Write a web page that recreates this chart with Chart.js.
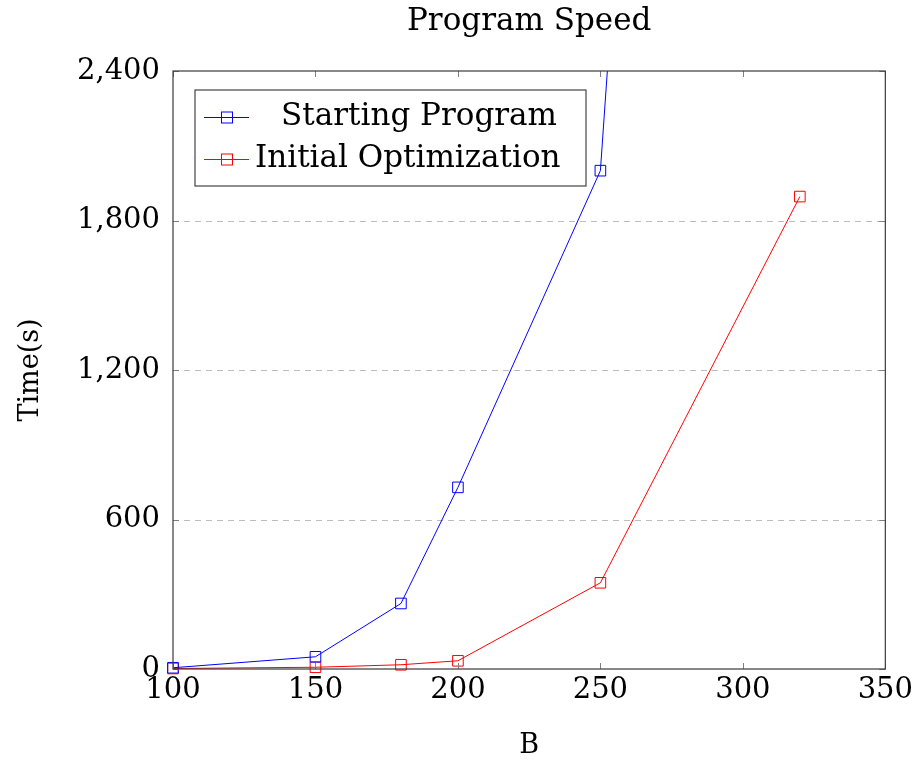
<!DOCTYPE html>
<html>
<head>
<meta charset="utf-8">
<script src="https://cdn.jsdelivr.net/npm/chart.js@4"></script>
<style>
  html, body { margin: 0; padding: 0; background: #fff; }
  #wrap { width: 917px; height: 762px; }
</style>
</head>
<body>
<div id="wrap"><canvas id="speedChart" width="917" height="762"></canvas></div>
<script>
// ── Data ───────────────────────────────────────────────────────
const CHART_TITLE = 'Program Speed';
const X_TITLE = 'B';
const Y_TITLE = 'Time(s)';

const startingB    = [100, 150, 180, 200, 250, 300];
const startingTime = [5, 49, 263, 729, 2000, 10200];

const optimB    = [100, 150, 180, 200, 250, 320];
const optimTime = [2, 7, 17, 33, 346, 1896];

const xTicks = [100, 150, 200, 250, 300, 350];
const yTicks = [0, 600, 1200, 1800, 2400];

const FONT = '"DejaVu Serif", "Liberation Serif", serif';

// ── Plugins ────────────────────────────────────────────────────
// dashed horizontal grid (inner ticks only)
const gridPlugin = {
  id: 'dashGrid',
  beforeDatasetsDraw(chart) {
    const { ctx, chartArea: a, scales: { y } } = chart;
    ctx.save();
    ctx.strokeStyle = '#bdbdbd';
    ctx.lineWidth = 1;
    ctx.setLineDash([6, 5]);
    yTicks.slice(1, -1).forEach(v => {
      const py = Math.round(y.getPixelForValue(v)) + 0.5;
      ctx.beginPath();
      ctx.moveTo(a.left, py);
      ctx.lineTo(a.right, py);
      ctx.stroke();
    });
    ctx.restore();
  },
};

// frame + inward ticks on all sides
const framePlugin = {
  id: 'frame',
  afterDatasetsDraw(chart) {
    const { ctx, chartArea: a, scales: { x, y } } = chart;
    const len = 6;
    ctx.save();
    ctx.strokeStyle = '#808080';
    ctx.lineWidth = 1;
    xTicks.forEach(v => {
      const px = Math.round(x.getPixelForValue(v)) + 0.5;
      ctx.beginPath();
      ctx.moveTo(px, a.bottom); ctx.lineTo(px, a.bottom - len);
      ctx.moveTo(px, a.top);    ctx.lineTo(px, a.top + len);
      ctx.stroke();
    });
    yTicks.forEach(v => {
      const py = Math.round(y.getPixelForValue(v)) + 0.5;
      ctx.beginPath();
      ctx.moveTo(a.left, py);  ctx.lineTo(a.left + len, py);
      ctx.moveTo(a.right, py); ctx.lineTo(a.right - len, py);
      ctx.stroke();
    });
    ctx.strokeStyle = '#3a3a3a';
    ctx.lineWidth = 1.2;
    ctx.strokeRect(a.left, a.top, a.right - a.left, a.bottom - a.top);
    ctx.restore();
  },
};

// title centered over the plot area
const titlePlugin = {
  id: 'plotTitle',
  afterDraw(chart) {
    const { ctx, chartArea: a } = chart;
    ctx.save();
    ctx.fillStyle = '#000';
    ctx.font = `31px ${FONT}`;
    ctx.textAlign = 'center';
    ctx.textBaseline = 'middle';
    ctx.fillText(CHART_TITLE, (a.left + a.right) / 2, 22);
    ctx.restore();
  },
};

// legend box inside the plot, top-left
const legendPlugin = {
  id: 'innerLegend',
  afterDraw(chart) {
    const { ctx, chartArea: a } = chart;
    const bx = a.left + 22, by = a.top + 19, bw = 391, bh = 96;
    ctx.save();
    ctx.fillStyle = '#fff';
    ctx.fillRect(bx, by, bw, bh);
    ctx.strokeStyle = '#444';
    ctx.lineWidth = 1.2;
    ctx.strokeRect(bx, by, bw, bh);
    ctx.font = `31px ${FONT}`;
    ctx.textBaseline = 'middle';
    chart.data.datasets.forEach((ds, i) => {
      const cy = by + 27 + i * 42;
      ctx.strokeStyle = ds.borderColor;
      ctx.lineWidth = 1;
      ctx.beginPath();
      ctx.moveTo(bx + 9, cy + 0.5); ctx.lineTo(bx + 54, cy + 0.5);
      ctx.stroke();
      ctx.strokeRect(bx + 26.5, cy - 5, 11, 11);
      ctx.fillStyle = '#000';
      if (i === 0) {
        ctx.textAlign = 'center';
        ctx.fillText(ds.label, bx + 224, cy);
      } else {
        ctx.textAlign = 'left';
        ctx.fillText(ds.label, bx + 60, cy);
      }
    });
    ctx.restore();
  },
};

// ── Chart ──────────────────────────────────────────────────────
const toPoints = (xs, ys) => xs.map((v, i) => ({ x: v, y: ys[i] }));
const CLIP = { left: 12, right: 12, top: 0, bottom: 12 };

new Chart(document.getElementById('speedChart').getContext('2d'), {
  type: 'line',
  data: {
    datasets: [
      {
        label: 'Starting Program',
        data: toPoints(startingB, startingTime),
        borderColor: '#0000ff',
        backgroundColor: 'rgba(0,0,0,0)',
        borderWidth: 1,
        pointStyle: 'rect',
        pointRadius: 7.5,
        pointBorderWidth: 1,
        pointBorderColor: '#0000ff',
        pointBackgroundColor: 'rgba(0,0,0,0)',
        tension: 0,
        clip: CLIP,
      },
      {
        label: 'Initial Optimization',
        data: toPoints(optimB, optimTime),
        borderColor: '#ff0000',
        backgroundColor: 'rgba(0,0,0,0)',
        borderWidth: 1,
        pointStyle: 'rect',
        pointRadius: 7.5,
        pointBorderWidth: 1,
        pointBorderColor: '#ff0000',
        pointBackgroundColor: 'rgba(0,0,0,0)',
        tension: 0,
        clip: CLIP,
      },
    ],
  },
  options: {
    responsive: false,
    animation: false,
    layout: { padding: { top: 71, right: 31, left: 0, bottom: 0 } },
    plugins: {
      legend: { display: false },
      tooltip: { enabled: false },
      title: { display: false },
    },
    scales: {
      x: {
        type: 'linear',
        min: 100, max: 350,
        afterBuildTicks: s => { s.ticks = xTicks.map(v => ({ value: v })); },
        afterFit: s => { s.height = 93; },
        ticks: { color: '#000', font: { family: FONT, size: 29 }, padding: 4 },
        grid: { display: false, drawTicks: false },
        border: { display: false },
        title: { display: true, text: X_TITLE, color: '#000', font: { family: FONT, size: 27 }, padding: { top: 0, bottom: 0 } },
      },
      y: {
        type: 'linear',
        min: 0, max: 2400,
        afterBuildTicks: s => { s.ticks = yTicks.map(v => ({ value: v })); },
        afterFit: s => { s.width = 173; },
        ticks: {
          color: '#000', font: { family: FONT, size: 29 }, padding: 13,
          callback: v => v.toLocaleString('en-US'),
        },
        grid: { display: false, drawTicks: false },
        border: { display: false },
        title: { display: true, text: Y_TITLE, color: '#000', font: { family: FONT, size: 27 }, padding: { top: 15, bottom: 0 } },
      },
    },
  },
  plugins: [gridPlugin, framePlugin, titlePlugin, legendPlugin],
});
</script>
</body>
</html>
